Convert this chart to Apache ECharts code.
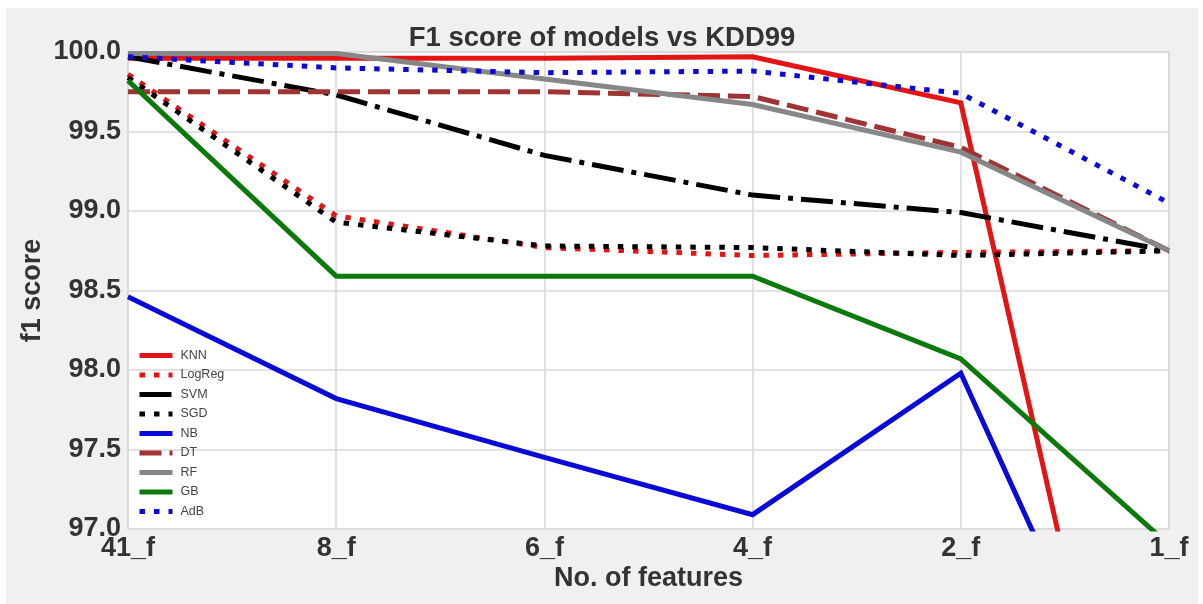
<!DOCTYPE html>
<html>
<head>
<meta charset="utf-8">
<script src="https://cdn.jsdelivr.net/npm/echarts@6/dist/echarts.min.js"></script>
<style>
html,body{margin:0;padding:0;background:#fff;width:1203px;height:604px;overflow:hidden;}
#chart{position:absolute;left:6px;top:8px;width:1192px;height:596px;}
</style>
</head>
<body>
<div id="chart"></div>
<script>
const categories = ['41_f', '8_f', '6_f', '4_f', '2_f', '1_f'];
const knn    = [99.96, 99.96, 99.96, 99.97, 99.68, 93.9];
const logreg = [99.86, 98.97, 98.77, 98.72, 98.74, 98.75];
const svm    = [99.97, 99.73, 99.35, 99.10, 98.99, 98.75];
const sgd    = [99.84, 98.93, 98.78, 98.77, 98.72, 98.75];
const nb     = [98.46, 97.82, 97.45, 97.09, 97.98, 95.1];
const dt     = [99.75, 99.75, 99.75, 99.72, 99.40, 98.75];
const rf     = [99.99, 99.99, 99.83, 99.67, 99.37, 98.75];
const gb     = [99.82, 98.59, 98.59, 98.59, 98.07, 96.9];
const adb    = [99.97, 99.90, 99.87, 99.88, 99.74, 99.05];
const yTicks = { min: 97, max: 100, interval: 0.5 };

const DOT = [5.5, 9];
const seriesDefs = [
  { name: 'KNN',    data: knn,    color: '#e31414', type: 'solid' },
  { name: 'LogReg', data: logreg, color: '#e31414', type: DOT },
  { name: 'SVM',    data: svm,    color: '#000000', type: [32, 8, 5, 8] },
  { name: 'SGD',    data: sgd,    color: '#000000', type: DOT },
  { name: 'NB',     data: nb,     color: '#0a0ad8', type: 'solid' },
  { name: 'DT',     data: dt,     color: '#a03434', type: [22, 8] },
  { name: 'RF',     data: rf,     color: '#878787', type: 'solid' },
  { name: 'GB',     data: gb,     color: '#0b7a0b', type: 'solid' },
  { name: 'AdB',    data: adb,    color: '#0a0ad8', type: DOT }
];

const chart = echarts.init(document.getElementById('chart'), null, { renderer: 'canvas' });
const boldText = { fontFamily: 'Liberation Sans, Arial, sans-serif', fontWeight: 'bold', fontSize: 27, color: '#333' };

chart.setOption({
  backgroundColor: '#f0f0f0',
  animation: false,
  title: {
    text: 'F1 score of models vs KDD99',
    left: 'center',
    top: 11,
    textStyle: Object.assign({}, boldText, { fontSize: 27.5 })
  },
  grid: {
    left: 122, top: 44, right: 29, bottom: 75,
    show: true, backgroundColor: '#ffffff', borderColor: '#d9d9d9', borderWidth: 1.5
  },
  legend: {
    orient: 'vertical',
    left: 131,
    top: 341,
    padding: 0,
    itemWidth: 33,
    itemHeight: 13,
    itemGap: 6.5,
    itemStyle: { opacity: 0 },
    lineStyle: { width: 5, cap: 'butt' },
    textStyle: { fontFamily: 'Liberation Sans, Arial, sans-serif', fontSize: 12.5, color: '#444', padding: [0, 0, 0, 3] },
    data: seriesDefs.map(s => s.name)
  },
  xAxis: {
    type: 'category',
    data: categories,
    boundaryGap: false,
    name: 'No. of features',
    nameLocation: 'middle',
    nameGap: 36,
    nameMoveOverlap: false,
    nameTextStyle: Object.assign({}, boldText),
    axisLine: { show: false },
    axisTick: { show: false },
    axisLabel: Object.assign({ margin: 6 }, boldText),
    splitLine: { show: true, lineStyle: { color: '#d9d9d9', width: 1.5 } }
  },
  yAxis: {
    type: 'value',
    min: yTicks.min,
    max: yTicks.max,
    interval: yTicks.interval,
    name: 'f1 score',
    nameLocation: 'middle',
    nameGap: 82,
    nameMoveOverlap: false,
    nameTextStyle: Object.assign({}, boldText),
    axisLine: { show: false },
    axisTick: { show: false },
    axisLabel: Object.assign({ margin: 7, formatter: v => v.toFixed(1) }, boldText),
    splitLine: { show: true, lineStyle: { color: '#d9d9d9', width: 1.5 } }
  },
  series: seriesDefs.map(s => ({
    name: s.name,
    type: 'line',
    data: s.data,
    symbol: 'none',
    clip: true,
    color: s.color,
    lineStyle: { color: s.color, width: 5, type: s.type, cap: 'butt', join: 'miter' }
  }))
});
</script>
</body>
</html>
